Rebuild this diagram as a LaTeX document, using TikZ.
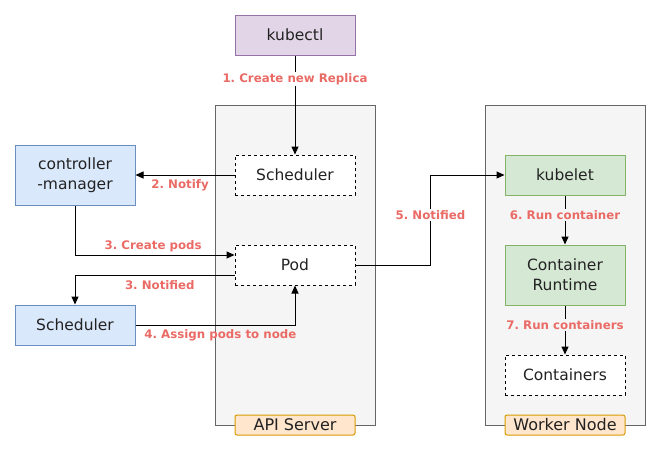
\documentclass[tikz,border=0pt]{standalone}
\usepackage{fontspec}
\setmainfont{DejaVu Sans}
\usetikzlibrary{arrows.meta,positioning}
\frenchspacing

\definecolor{purpfill}{HTML}{E1D5E7}
\definecolor{purpline}{HTML}{9673A6}
\definecolor{bluefill}{HTML}{DAE8FC}
\definecolor{blueline}{HTML}{6C8EBF}
\definecolor{greenfill}{HTML}{D5E8D4}
\definecolor{greenline}{HTML}{82B366}
\definecolor{grayfill}{HTML}{F5F5F5}
\definecolor{grayline}{HTML}{666666}
\definecolor{tagfill}{HTML}{FFE6CC}
\definecolor{tagline}{HTML}{D79B00}
\definecolor{lblred}{HTML}{EA6B66}
\definecolor{txt}{HTML}{222222}

\begin{document}
\begin{tikzpicture}[
  x=1pt, y=-1pt,
  line width=1pt,
  box/.style={draw, minimum width=120pt, minimum height=40pt, inner sep=0pt,
    align=center, text=txt, font=\fontsize{15.5}{20}\selectfont},
  dbox/.style={box, fill=white, dash pattern=on 3pt off 3pt},
  pbox/.style={box, fill=purpfill, draw=purpline},
  bbox/.style={box, fill=bluefill, draw=blueline},
  gbox/.style={box, fill=greenfill, draw=greenline},
  group/.style={draw=grayline, fill=grayfill, minimum width=160pt, minimum height=320pt, inner sep=0pt},
  tag/.style={box, fill=tagfill, draw=tagline, rounded corners=2pt, minimum height=20pt,
    font=\fontsize{16}{18}\selectfont},
  arr/.style={-{Triangle[length=8pt,width=7pt]}, line width=1pt},
  lbl/.style={text=lblred, inner sep=1.5pt, font=\bfseries\fontsize{11.8}{14}\selectfont},
]
\useasboundingbox (0,0) rectangle (661,451);

% ---- containers ----
\node[group] (api) at (295,265) {};
\node[group] (worker) at (565,265) {};
\node[tag] (apitag) at (295,425) {API Server};
\node[tag] (workertag) at (565,425) {Worker Node};

% ---- nodes ----
\node[pbox] (kubectl) at (295,35) {kubectl};
\node[dbox] (apisched) at (295,175) {Scheduler};
\node[dbox] (pod) at (295,265) {Pod};
\node[bbox, minimum height=60pt] (ctrl) at (75,175) {controller\\-manager};
\node[bbox] (sched) at (75,325) {Scheduler};
\node[gbox] (kubelet) at (565,175) {kubelet};
\node[gbox, minimum height=60pt] (runtime) at (565,275) {Container\\Runtime};
\node[dbox] (cont) at (565,375) {Containers};

% ========================= API side =========================
\draw[arr] (kubectl) -- node[lbl, fill=white, pos=0.24] {1. Create new Replica} (apisched);
\draw[arr] (apisched) -- node[lbl, below=3pt, pos=0.55] {2. Notify} (ctrl);
\draw[arr] (ctrl.south) |- node[lbl, above=1pt, pos=0.745] {3. Create pods} ([yshift=10pt]pod.west);
\draw[arr] ([yshift=-10pt]pod.west) -| node[lbl, below=4pt, pos=0.234] {3. Notified} (sched.north);
\draw[arr] (sched.east) -| node[lbl, below=3pt, pos=0.266] {4. Assign pods to node} (pod.south);

% ========================= Worker side =========================
\draw[arr] (pod.east) -- ++(75,0) |- node[lbl, fill=white, pos=0.278] {5. Notified} (kubelet.west);
\draw[arr] (kubelet) -- node[lbl, fill=grayfill, pos=0.4] {6. Run container} (runtime);
\draw[arr] (runtime) -- node[lbl, fill=grayfill, pos=0.4] {7. Run containers} (cont);

\end{tikzpicture}
\end{document}
